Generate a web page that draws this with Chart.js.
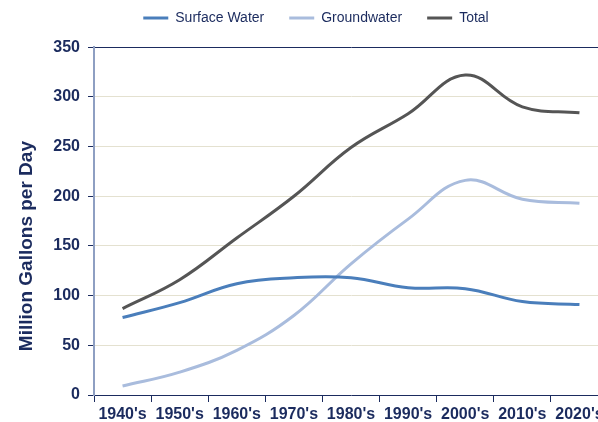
<!DOCTYPE html>
<html>
<head>
<meta charset="utf-8">
<script src="https://cdn.jsdelivr.net/npm/chart.js@4"></script>
<style>
  html, body { margin: 0; padding: 0; background: #fff; overflow: hidden; }
  #wrap { position: relative; width: 608px; height: 422px; }
</style>
</head>
<body>
<div id="wrap"><canvas id="chart"></canvas></div>
<script>
// Decades along the x axis
const decades = ["1940's", "1950's", "1960's", "1970's", "1980's", "1990's", "2000's", "2010's", "2020's"];

// Values (million gallons per day)
const surfaceWater = [78, 93, 112, 118, 118, 108, 107, 94, 91];
const groundwater = [9, 23, 45, 80, 132, 177, 216, 197, 193];
const total = [87, 116, 158, 200, 249, 283, 322, 290, 284];

const yTitle = 'Million Gallons per Day';

const navy = '#1B2B5E';
const gridBeige = '#E4E1D0';
const fontFamily = 'Liberation Sans, Arial, sans-serif';

function series(label, data, color) {
    return {
        label: label,
        data: data,
        borderColor: color,
        backgroundColor: color,
        borderWidth: 3,
        pointRadius: 0,
        pointHoverRadius: 0,
        tension: 0.4,
        fill: false
    };
}

// The axis title sits a little below the middle of the plot in the original
const yTitlePlugin = {
    id: 'yTitle',
    afterDraw(chart) {
        const c = chart.ctx;
        const area = chart.chartArea;
        c.save();
        c.translate(27, (area.top + area.bottom) / 2 + 25);
        c.rotate(-Math.PI / 2);
        c.fillStyle = navy;
        c.font = 'bold 19px ' + fontFamily;
        c.textAlign = 'center';
        c.textBaseline = 'middle';
        c.fillText(yTitle, 0, 0);
        c.restore();
    }
};

const ctx = document.getElementById('chart').getContext('2d');
new Chart(ctx, {
    type: 'line',
    data: {
        labels: decades,
        datasets: [
            series('Surface Water', surfaceWater, '#4A7EBB'),
            series('Groundwater', groundwater, '#A9BCDD'),
            series('Total', total, '#555555')
        ]
    },
    plugins: [yTitlePlugin],
    options: {
        responsive: true,
        maintainAspectRatio: false,
        animation: false,
        layout: { padding: { top: -14, right: 0, bottom: 0, left: 24 } },
        plugins: {
            tooltip: { enabled: false },
            legend: {
                position: 'top',
                weight: 3000,
                labels: {
                    usePointStyle: true,
                    pointStyle: 'line',
                    pointStyleWidth: 25,
                    boxHeight: 14,
                    color: navy,
                    padding: 25,
                    font: { family: fontFamily, size: 14 }
                }
            },
            // empty spacer between the legend and the plot
            subtitle: {
                display: true,
                text: ' ',
                padding: { top: 0, bottom: 11 },
                font: { size: 1 }
            }
        },
        scales: {
            x: {
                offset: true,
                afterFit: function (scale) { scale.height = 27; },
                grid: {
                    display: true,
                    drawOnChartArea: false,
                    offset: true,
                    tickLength: 7,
                    tickColor: navy
                },
                border: { color: navy, width: 1 },
                ticks: {
                    color: navy,
                    padding: 3,
                    maxRotation: 0,
                    autoSkip: false,
                    font: { family: fontFamily, size: 16, weight: 'bold' }
                }
            },
            y: {
                min: 0,
                max: 350,
                afterFit: function (scale) { scale.width = 70; },
                ticks: {
                    stepSize: 50,
                    color: navy,
                    padding: 8,
                    font: { family: fontFamily, size: 16, weight: 'bold' }
                },
                grid: {
                    color: function (c) {
                        if (c.tick && c.tick.value === 350) return navy;
                        if (c.tick && c.tick.value === 0) return 'rgba(0,0,0,0)';
                        return gridBeige;
                    },
                    tickColor: navy,
                    tickLength: 6
                },
                border: { color: '#8E9FC2', width: 2 }
            }
        }
    }
});
</script>
</body>
</html>
